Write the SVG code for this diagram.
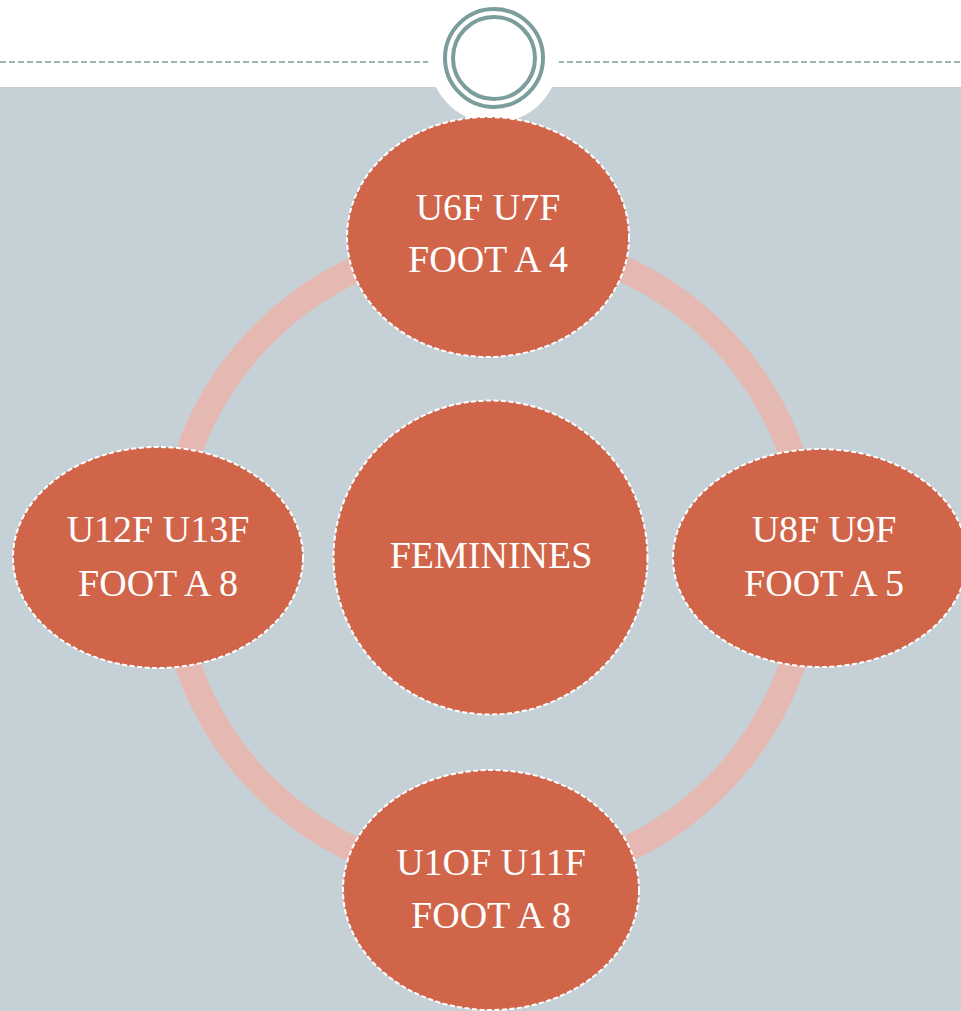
<svg xmlns="http://www.w3.org/2000/svg" width="961" height="1011" viewBox="0 0 961 1011">
  <style>
    .node { fill: #d1654a; stroke: #ffffff; stroke-width: 2; stroke-dasharray: 5 2.5; }
    .label { font-family: "Liberation Serif", "Times New Roman", serif; font-size: 38px; fill: #ffffff; text-anchor: middle; }
    .rule { stroke: #7b9d9b; stroke-width: 1.5; stroke-dasharray: 6 3; fill: none; }
    .badge { fill: none; stroke: #7b9d9b; stroke-width: 4; }
  </style>
  <rect x="0" y="0" width="961" height="1011" fill="#ffffff"/>
  <rect x="0" y="87" width="961" height="924" fill="#c5d1d7"/>
  <g id="header">
    <line class="rule" x1="0" y1="62" x2="428" y2="62"/>
    <line class="rule" x1="558" y1="62" x2="961" y2="62"/>
    <circle cx="494" cy="58" r="65" fill="#ffffff"/>
    <circle class="badge" cx="494" cy="58" r="49"/>
    <circle class="badge" cx="494" cy="58" r="41"/>
  </g>
  <g id="connectors">
    <circle cx="490" cy="560" r="320" fill="none" stroke="#e5b8b2" stroke-width="26"/>
  </g>
  <g id="node-center">
    <circle class="node" cx="490.5" cy="557.5" r="157"/>
    <text class="label" x="491" y="568" font-size="39">FEMININES</text>
  </g>
  <g id="node-top">
    <ellipse class="node" cx="488" cy="237" rx="141" ry="120"/>
    <text class="label" x="488" y="220">U6F U7F</text>
    <text class="label" x="488" y="272">FOOT A 4</text>
  </g>
  <g id="node-left">
    <ellipse class="node" cx="158" cy="557.5" rx="145" ry="110.5"/>
    <text class="label" x="158" y="542">U12F U13F</text>
    <text class="label" x="158" y="596">FOOT A 8</text>
  </g>
  <g id="node-right">
    <ellipse class="node" cx="820" cy="558" rx="147" ry="109"/>
    <text class="label" x="824" y="542">U8F U9F</text>
    <text class="label" x="824" y="596">FOOT A 5</text>
  </g>
  <g id="node-bottom">
    <ellipse class="node" cx="491" cy="890" rx="148" ry="120"/>
    <text class="label" x="491" y="875">U1OF U11F</text>
    <text class="label" x="491" y="928">FOOT A 8</text>
  </g>
</svg>
